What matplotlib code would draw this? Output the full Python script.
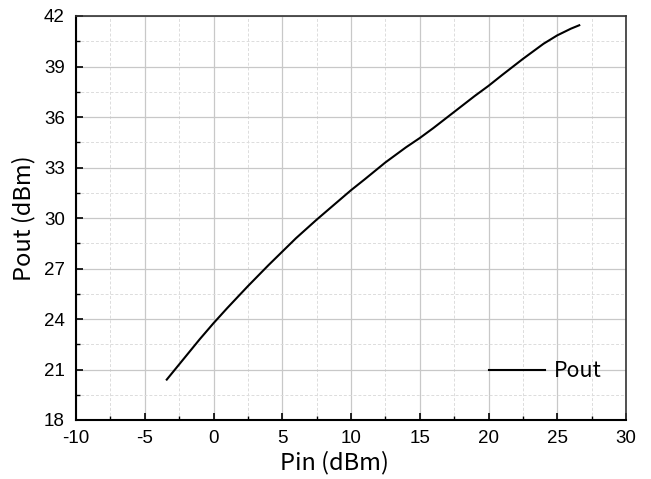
import matplotlib
matplotlib.use("Agg")
import matplotlib.pyplot as plt
from matplotlib.ticker import MultipleLocator

plt.rcParams['axes.unicode_minus'] = False

pin = [-3.4, -2.0, -1.0, 0.0, 1.0, 2.5, 4.0, 5.0, 6.0, 7.5, 9.0, 10.0, 11.0, 12.5, 14.0, 15.0, 16.0, 17.5, 19.0, 20.0, 21.0, 22.5, 24.0, 25.0, 26.0, 26.6]
pout = [20.4, 21.8, 22.8, 23.75, 24.65, 25.95, 27.2, 28.0, 28.8, 29.9, 30.95, 31.65, 32.3, 33.3, 34.2, 34.75, 35.35, 36.3, 37.25, 37.85, 38.5, 39.45, 40.35, 40.85, 41.25, 41.45]

xticks = [-10, -5, 0, 5, 10, 15, 20, 25, 30]
yticks = [18, 21, 24, 27, 30, 33, 36, 39, 42]

fig = plt.figure(figsize=(6.51, 4.79), dpi=100)
ax = fig.add_axes([76/651, 1 - 420/479, 550/651, 404/479])

ax.plot(pin, pout, color='black', lw=1.5, label='Pout')

ax.set_xlim(-10, 30)
ax.set_ylim(18, 42)
ax.set_xticks(xticks)
ax.set_yticks(yticks)
ax.set_xticklabels([str(v) for v in xticks], family='Liberation Sans', fontsize=13.5)
ax.set_yticklabels([str(v) for v in yticks], family='Liberation Sans', fontsize=13.5)
ax.xaxis.set_minor_locator(MultipleLocator(2.5))
ax.yaxis.set_minor_locator(MultipleLocator(1.5))

ax.grid(which='major', color='#c8c8c8', lw=0.9, ls='-')
ax.grid(which='minor', color='#dcdcdc', lw=0.7, ls=(0, (3, 2)))
ax.set_axisbelow(True)

ax.tick_params(axis='x', which='major', pad=7)
ax.tick_params(axis='y', which='major', pad=8)
ax.tick_params(which='major', direction='in', length=5, width=1.2, top=False, right=False)
ax.tick_params(which='minor', direction='in', length=3, width=1.0, top=False, right=False)

for s in ['left', 'bottom']:
    ax.spines[s].set_linewidth(1.5)
    ax.spines[s].set_color('black')
for s in ['top', 'right']:
    ax.spines[s].set_linewidth(1.2)
    ax.spines[s].set_color('#333333')

ax.set_xlabel('Pin (dBm)', fontsize=17, family=['Noto Sans CJK SC', 'DejaVu Sans'], labelpad=3)
ax.xaxis.label.set_x(0.469)
ax.set_ylabel('Pout (dBm)', fontsize=17, family=['Noto Sans CJK SC', 'DejaVu Sans'], labelpad=6)

leg = ax.legend(loc='lower right', frameon=False, prop={'family': 'Noto Sans CJK SC', 'size': 15.5},
                handlelength=2.6, handletextpad=0.4, bbox_to_anchor=(0.99, 0.045))

fig.savefig('out.png', dpi=100)
